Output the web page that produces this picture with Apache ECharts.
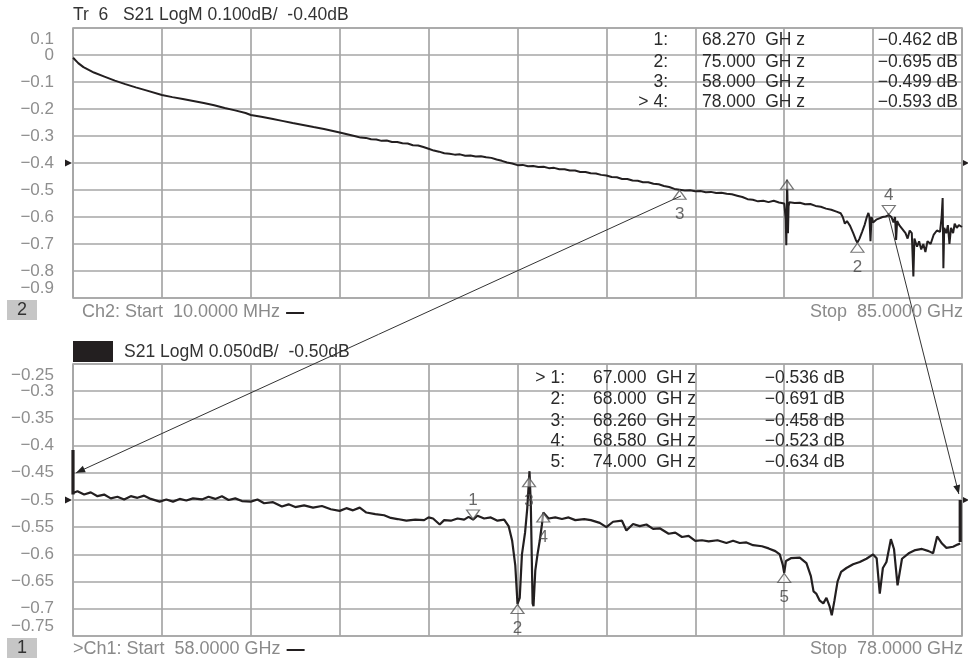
<!DOCTYPE html>
<html>
<head>
<meta charset="utf-8">
<script src="https://cdn.jsdelivr.net/npm/echarts@6/dist/echarts.min.js"></script>
<style>
html,body{margin:0;padding:0;background:#fff;}
#chart{width:968px;height:663px;}
</style>
</head>
<body>
<div id="chart"></div>
<script>
// ---------- data ----------
// Top trace (Ch2): frequency GHz, S21 dB
const topFreq = [0.01,0.5,1,2,3,4,5,6,7,8.5,9.5,10.5,11.5,12.5,13.5,14.5,15.5,16.5,17,18,19,20,21,22,23,24,25.5,26.5,27,27.5,28,28.5,29,29.5,30,30.5,31,31.5,32,32.5,33,33.5,34,34.5,35,35.5,36,36.5,37,37.5,38,38.5,39,39.5,40,40.5,41,41.5,42,42.5,43,43.5,44,44.5,45,45.5,46,46.5,47,47.5,48,48.5,49,49.5,50,50.5,51,51.5,52,52.5,53,53.5,54,54.5,55,55.5,56,56.5,57,57.5,58,58.5,59,59.5,60,60.5,61,61.5,62,62.5,63,63.5,64,64.5,65,65.5,66,66.5,67,67.5,68,68.15,68.2,68.24,68.27,68.31,68.36,68.42,68.5,69,69.5,70,70.5,71,71.5,72,72.5,73,73.4,73.6,73.8,74,74.3,74.6,74.85,75,75.2,75.45,75.7,75.9,76.05,76.15,76.25,76.35,76.5,76.8,77.1,77.4,77.7,78,78.25,78.45,78.6,78.7,78.8,79,79.3,79.6,79.8,80,80.2,80.35,80.45,80.7,80.9,81.1,81.3,81.5,81.7,82,82.3,82.6,82.9,83.05,83.15,83.22,83.3,83.5,83.65,83.8,83.95,84.15,84.3,84.5,84.7,85];
const topDb = [-0.01,-0.03,-0.045,-0.065,-0.08,-0.095,-0.108,-0.12,-0.131,-0.148,-0.156,-0.163,-0.17,-0.178,-0.186,-0.196,-0.205,-0.215,-0.222,-0.229,-0.236,-0.244,-0.252,-0.259,-0.267,-0.274,-0.287,-0.296,-0.301,-0.306,-0.307,-0.312,-0.313,-0.318,-0.317,-0.322,-0.322,-0.327,-0.328,-0.334,-0.335,-0.341,-0.347,-0.354,-0.358,-0.364,-0.366,-0.369,-0.368,-0.373,-0.372,-0.376,-0.375,-0.379,-0.381,-0.387,-0.392,-0.398,-0.402,-0.408,-0.407,-0.412,-0.411,-0.415,-0.414,-0.419,-0.418,-0.423,-0.423,-0.428,-0.428,-0.433,-0.433,-0.438,-0.439,-0.444,-0.446,-0.452,-0.453,-0.459,-0.459,-0.465,-0.466,-0.471,-0.471,-0.477,-0.479,-0.485,-0.489,-0.496,-0.499,-0.502,-0.501,-0.505,-0.504,-0.508,-0.507,-0.511,-0.51,-0.514,-0.516,-0.521,-0.526,-0.534,-0.536,-0.542,-0.54,-0.545,-0.54,-0.546,-0.55,-0.61,-0.705,-0.6,-0.462,-0.52,-0.66,-0.56,-0.545,-0.548,-0.547,-0.553,-0.552,-0.559,-0.562,-0.569,-0.573,-0.58,-0.586,-0.6,-0.625,-0.615,-0.633,-0.66,-0.685,-0.695,-0.68,-0.655,-0.628,-0.6,-0.585,-0.6,-0.69,-0.6,-0.62,-0.61,-0.605,-0.6,-0.598,-0.593,-0.6,-0.62,-0.6,-0.685,-0.615,-0.63,-0.645,-0.66,-0.68,-0.65,-0.66,-0.82,-0.68,-0.71,-0.69,-0.72,-0.7,-0.73,-0.69,-0.7,-0.665,-0.65,-0.655,-0.6,-0.53,-0.79,-0.64,-0.66,-0.63,-0.7,-0.64,-0.66,-0.625,-0.64,-0.63,-0.637];

// Bottom trace (Ch1): frequency GHz, S21 dB
const botFreq = [58,58.1,58.25,58.4,58.55,58.7,58.85,59,59.15,59.3,59.45,59.6,59.75,59.95,60.1,60.25,60.4,60.55,60.7,60.9,61.05,61.2,61.35,61.5,61.65,61.8,62,62.15,62.3,62.5,62.7,62.85,63,63.2,63.4,63.6,63.8,64,64.15,64.3,64.45,64.6,64.8,65,65.15,65.3,65.5,65.7,65.9,66,66.1,66.25,66.35,66.5,66.65,66.8,66.9,67,67.1,67.25,67.4,67.55,67.7,67.8,67.88,67.95,68,68.05,68.1,68.17,68.22,68.27,68.3,68.34,68.36,68.4,68.45,68.5,68.55,68.58,68.62,68.7,68.85,69,69.15,69.3,69.5,69.65,69.85,70,70.15,70.35,70.45,70.6,70.75,70.9,71.05,71.2,71.4,71.55,71.7,71.85,72,72.15,72.3,72.5,72.7,72.85,73,73.15,73.3,73.5,73.65,73.8,73.9,73.97,74,74.04,74.15,74.35,74.5,74.6,74.66,74.72,74.8,74.88,74.95,75.02,75.07,75.13,75.2,75.28,75.4,75.55,75.7,75.85,76,76.08,76.15,76.22,76.3,76.4,76.47,76.55,76.65,76.8,76.95,77.1,77.25,77.35,77.44,77.55,77.65,77.8,77.9,77.96];
const botDb = [-0.487,-0.484,-0.49,-0.486,-0.493,-0.49,-0.497,-0.494,-0.499,-0.493,-0.496,-0.492,-0.498,-0.503,-0.499,-0.503,-0.498,-0.501,-0.497,-0.499,-0.494,-0.498,-0.493,-0.5,-0.497,-0.502,-0.503,-0.499,-0.506,-0.504,-0.512,-0.508,-0.513,-0.51,-0.514,-0.511,-0.517,-0.52,-0.515,-0.519,-0.514,-0.523,-0.526,-0.528,-0.533,-0.535,-0.538,-0.536,-0.537,-0.532,-0.534,-0.545,-0.537,-0.538,-0.534,-0.536,-0.531,-0.536,-0.529,-0.534,-0.532,-0.538,-0.536,-0.548,-0.575,-0.62,-0.691,-0.68,-0.6,-0.56,-0.515,-0.447,-0.51,-0.69,-0.695,-0.63,-0.6,-0.575,-0.545,-0.523,-0.52,-0.534,-0.532,-0.535,-0.532,-0.537,-0.535,-0.537,-0.542,-0.55,-0.54,-0.538,-0.556,-0.544,-0.548,-0.545,-0.553,-0.552,-0.562,-0.56,-0.568,-0.566,-0.575,-0.574,-0.576,-0.574,-0.579,-0.575,-0.579,-0.578,-0.583,-0.585,-0.589,-0.594,-0.6,-0.62,-0.634,-0.612,-0.607,-0.606,-0.616,-0.64,-0.668,-0.672,-0.685,-0.69,-0.68,-0.695,-0.712,-0.685,-0.65,-0.632,-0.625,-0.618,-0.614,-0.608,-0.6,-0.607,-0.672,-0.625,-0.614,-0.572,-0.59,-0.657,-0.608,-0.598,-0.592,-0.59,-0.594,-0.598,-0.567,-0.58,-0.588,-0.586,-0.582,-0.58];

// edge bars of the bottom trace
const botLeftBar = [[58, -0.408], [58, -0.49]];
const botRightBar = [[77.96, -0.5], [77.96, -0.577]];

// Markers
const topMkName = ['1', '2', '3', '4'];
const topMkFreq = [68.27, 75.0, 58.0, 78.0];
const topMkDb = [-0.462, -0.695, -0.499, -0.593];
const botMkName = ['1', '2', '3', '4', '5'];
const botMkFreq = [67.0, 68.0, 68.26, 68.58, 74.0];
const botMkDb = [-0.536, -0.691, -0.458, -0.523, -0.634];

// Marker tables
const topTblIdx = ['1:', '2:', '3:', '> 4:'];
const topTblFreq = ['68.270  GH z', '75.000  GH z', '58.000  GH z', '78.000  GH z'];
const topTblVal = ['\u22120.462 dB', '\u22120.695 dB', '\u22120.499 dB', '\u22120.593 dB'];
const botTblIdx = ['> 1:', '2:', '3:', '4:', '5:'];
const botTblFreq = ['67.000  GH z', '68.000  GH z', '68.260  GH z', '68.580  GH z', '74.000  GH z'];
const botTblVal = ['\u22120.536 dB', '\u22120.691 dB', '\u22120.458 dB', '\u22120.523 dB', '\u22120.634 dB'];

// Axis ranges
const topX = [0, 85, 8.5];
const topY = [-0.9, 0.1, 0.1];
const botX = [58, 78, 2];
const botY = [-0.75, -0.25, 0.05];
const topRef = -0.4, botRef = -0.5;

// Zoom link annotation lines: [start (top grid), end (bottom grid)]
const linkStart = [[58.13, -0.522], [77.92, -0.585]];
const linkEnd = [[58.07, -0.45], [77.93, -0.489]];

// Texts
const topHeader = 'Tr  6   S21 LogM 0.100dB/  -0.40dB';
const botHeader = 'S21 LogM 0.050dB/  -0.50dB';
const topFootL = 'Ch2: Start  10.0000 MHz';
const topFootR = 'Stop  85.0000 GHz';
const botFootL = '>Ch1: Start  58.0000 GHz';
const botFootR = 'Stop  78.0000 GHz';

// ---------- chart ----------
const FONT = '"Liberation Sans", Arial, Helvetica, sans-serif';
const GRID_C = '#a6a6a6';
const TRACE_C = '#231f20';
const LBL_C = '#8e8e8e';
const chart = echarts.init(document.getElementById('chart'), null, {renderer: 'canvas'});

function fmtVal(v) {
  const r = Math.round(v * 1000) / 1000;
  return String(r).replace('-', '\u2212');
}

function xAxisDef(idx, r) {
  return {
    gridIndex: idx, type: 'value', min: r[0], max: r[1], interval: r[2],
    axisLine: {show: false}, axisTick: {show: false}, axisLabel: {show: false},
    splitLine: {show: true, lineStyle: {color: GRID_C, width: 1.7}}
  };
}
function yAxisDef(idx, r) {
  return {
    gridIndex: idx, type: 'value', min: r[0], max: r[1], interval: r[2],
    axisLine: {show: false}, axisTick: {show: false},
    axisLabel: {
      show: true, margin: 19, color: LBL_C, fontSize: 17, fontFamily: FONT,
      showMinLabel: false, showMaxLabel: false,
      formatter: v => fmtVal(v)
    },
    splitLine: {show: true, lineStyle: {color: GRID_C, width: 1.7}}
  };
}

function markerData(freqs, vals, names, downSet, hideLabelSet) {
  return freqs.map((f, i) => {
    const down = downSet.includes(i);
    return {
      value: [f, vals[i]],
      name: names[i],
      symbolRotate: down ? 180 : 0,
      symbolOffset: down ? [0, -5] : [0, 5],
      label: {
        show: !hideLabelSet.includes(i),
        position: down ? 'top' : 'bottom',
        distance: down ? 1 : 6
      }
    };
  });
}
function markerSeries(xi, yi, data) {
  return {
    type: 'scatter', xAxisIndex: xi, yAxisIndex: yi, data: data,
    symbol: 'triangle', symbolSize: [13, 9],
    itemStyle: {color: 'rgba(255,255,255,0.6)', borderColor: '#555', borderWidth: 1.2},
    label: {formatter: p => p.name, color: '#444', fontSize: 17, fontFamily: FONT},
    z: 5, silent: true, animation: false
  };
}

const option = {
  animation: false,
  backgroundColor: '#ffffff',
  grid: [
    {left: 73, top: 28, width: 889, height: 270, show: true, borderColor: GRID_C, borderWidth: 1.7, backgroundColor: 'transparent'},
    {left: 73, top: 364, width: 889, height: 272, show: true, borderColor: GRID_C, borderWidth: 1.7, backgroundColor: 'transparent'}
  ],
  xAxis: [xAxisDef(0, topX), xAxisDef(1, botX)],
  yAxis: [yAxisDef(0, topY), yAxisDef(1, botY)],
  series: [
    {type: 'line', xAxisIndex: 0, yAxisIndex: 0, data: topFreq.map((f, i) => [f, topDb[i]]),
     showSymbol: false, lineStyle: {color: TRACE_C, width: 2}, z: 3},
    {type: 'line', xAxisIndex: 1, yAxisIndex: 1, data: botFreq.map((f, i) => [f, botDb[i]]),
     showSymbol: false, lineStyle: {color: TRACE_C, width: 2.2}, z: 3},
    {type: 'line', xAxisIndex: 1, yAxisIndex: 1, data: botLeftBar, showSymbol: false,
     lineStyle: {color: TRACE_C, width: 3.2}, z: 3},
    {type: 'line', xAxisIndex: 1, yAxisIndex: 1, data: botRightBar, showSymbol: false,
     lineStyle: {color: TRACE_C, width: 3.2}, z: 3},
    markerSeries(0, 0, markerData(topMkFreq, topMkDb, topMkName, [3], [0])),
    markerSeries(1, 1, markerData(botMkFreq, botMkDb, botMkName, [0], []))
  ]
};
chart.setOption(option);

// ---------- overlays (positions from the library's own scales) ----------
function px(gridIndex, pt) { return chart.convertToPixel({gridIndex: gridIndex}, pt); }
const g = [];
function txt(x, y, text, opts) {
  g.push({type: 'text', x: x, y: y, z: 10, silent: true,
    style: Object.assign({text: text, fontSize: 17.5, fontFamily: FONT, fill: '#2a2a2a',
      align: 'left', verticalAlign: 'middle'}, opts || {})});
}
function textWidth(text, size) {
  return echarts.format.getTextRect ? echarts.format.getTextRect(text, size + 'px ' + FONT).width : text.length * size * 0.5;
}
// end tick labels of the y axes, pulled inside the plot edges as on the instrument
[[0, topX, topY], [1, botX, botY]].forEach(([gi, xr, yr]) => {
  const pMax = px(gi, [xr[0], yr[1]]);
  const pMin = px(gi, [xr[0], yr[0]]);
  txt(pMax[0] - 19, pMax[1] + 11, fmtVal(yr[1]), {align: 'right', fill: LBL_C, fontSize: 17});
  txt(pMin[0] - 19, pMin[1] - 10, fmtVal(yr[0]), {align: 'right', fill: LBL_C, fontSize: 17});
});
// headers
const tl = px(0, [topX[0], topY[1]]);
txt(tl[0], 15, topHeader, {fill: '#333'});
const bl = px(1, [botX[0], botY[1]]);
g.push({type: 'rect', shape: {x: bl[0], y: 341, width: 40, height: 21}, style: {fill: '#231f20'}, silent: true});
txt(bl[0] + 51, 352, botHeader, {fill: '#333'});
// footers
const tbr = px(0, [topX[1], topY[0]]);
const bbr = px(1, [botX[1], botY[0]]);
const FS = 18;
g.push({type: 'rect', shape: {x: 7, y: tbr[1] + 2, width: 30, height: 20}, style: {fill: '#c6c6c6'}, silent: true});
txt(22, tbr[1] + 12, '2', {align: 'center', fill: '#333', fontSize: 18});
txt(82, tbr[1] + 14, topFootL, {fill: '#8a8a8a', fontSize: FS});
txt(tbr[0] + 1, tbr[1] + 14, topFootR, {fill: '#8a8a8a', align: 'right', fontSize: FS});
g.push({type: 'rect', shape: {x: 7, y: bbr[1] + 2, width: 30, height: 20}, style: {fill: '#c6c6c6'}, silent: true});
txt(22, bbr[1] + 12, '1', {align: 'center', fill: '#333', fontSize: 18});
txt(73, bbr[1] + 13, botFootL, {fill: '#8a8a8a', fontSize: FS});
txt(bbr[0] + 1, bbr[1] + 13, botFootR, {fill: '#8a8a8a', align: 'right', fontSize: FS});
// line-style dashes after the start text
const w1 = textWidth(topFootL, FS), w2 = textWidth(botFootL, FS);
g.push({type: 'line', shape: {x1: 82 + w1 + 6, y1: tbr[1] + 15, x2: 82 + w1 + 24, y2: tbr[1] + 15}, style: {stroke: '#231f20', lineWidth: 2}, silent: true});
g.push({type: 'line', shape: {x1: 73 + w2 + 6, y1: bbr[1] + 14, x2: 73 + w2 + 24, y2: bbr[1] + 14}, style: {stroke: '#231f20', lineWidth: 2}, silent: true});
// marker tables
const topRowY = [40.5, 62, 82, 102];
topTblIdx.forEach((s, i) => {
  txt(668, topRowY[i], s, {align: 'right'});
  txt(702, topRowY[i], topTblFreq[i]);
  txt(958, topRowY[i], topTblVal[i], {align: 'right'});
});
const botRowY = [378, 399.5, 421, 441.5, 462];
botTblIdx.forEach((s, i) => {
  txt(565, botRowY[i], s, {align: 'right'});
  txt(593, botRowY[i], botTblFreq[i]);
  txt(845, botRowY[i], botTblVal[i], {align: 'right'});
});
// reference level arrows
function refArrows(gi, xr, ref) {
  const l = px(gi, [xr[0], ref]);
  const r = px(gi, [xr[1], ref]);
  g.push({type: 'polygon', shape: {points: [[l[0] - 8, l[1] - 3.5], [l[0] - 1, l[1]], [l[0] - 8, l[1] + 3.5]]}, style: {fill: '#231f20'}, silent: true, z: 6});
  g.push({type: 'polygon', shape: {points: [[r[0] + 1, r[1] - 3], [r[0] + 7, r[1]], [r[0] + 1, r[1] + 3]]}, style: {fill: '#231f20'}, silent: true, z: 6});
}
refArrows(0, topX, topRef);
refArrows(1, botX, botRef);
// zoom link lines with arrowheads
linkStart.forEach((s, i) => {
  const a = px(0, s);
  const b = px(1, linkEnd[i]);
  g.push({type: 'line', shape: {x1: a[0], y1: a[1], x2: b[0], y2: b[1]}, style: {stroke: '#333', lineWidth: 1}, silent: true, z: 7});
  const dx = b[0] - a[0], dy = b[1] - a[1], L = Math.hypot(dx, dy);
  const ux = dx / L, uy = dy / L, nx = -uy, ny = ux;
  const bx = b[0] - ux * 9, by = b[1] - uy * 9;
  g.push({type: 'polygon', shape: {points: [[b[0], b[1]], [bx + nx * 3.5, by + ny * 3.5], [bx - nx * 3.5, by - ny * 3.5]]}, style: {fill: '#222'}, silent: true, z: 7});
});
chart.setOption({graphic: g});
</script>
</body>
</html>
